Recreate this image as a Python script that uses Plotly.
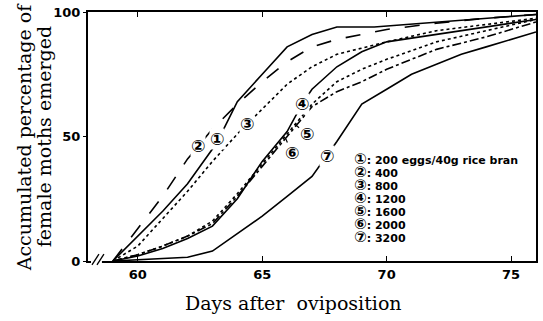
import plotly.graph_objects as go

# ---- data ----
c1_x = [59, 60, 61, 62, 63, 63.4, 64, 65, 66, 67, 68, 69.5, 72, 74, 76]
c1_y = [0, 10, 20, 31, 45, 52, 64, 75, 86, 91, 94, 94, 96, 97.5, 99]

c2_x = [59, 60, 61, 62, 63, 64, 65, 66, 67, 68, 70, 72, 74, 76]
c2_y = [0, 13, 26, 41, 53, 63, 72, 80, 86, 89, 93, 95.5, 97.5, 99]

c3_x = [59, 60, 61, 62, 63, 64, 65, 66, 67, 68, 70, 72, 74, 76]
c3_y = [0, 6, 17, 28, 40, 51, 61, 71, 78, 83, 88, 92.5, 95, 97.5]

c4_x = [59, 60, 61, 62, 63, 64, 65, 66, 66.6, 67, 68, 69, 70, 72, 74, 76]
c4_y = [0, 2, 5, 9, 14, 25, 40, 52, 63, 69, 78, 84, 88, 91, 94, 97]

c5_x = [59, 60, 61, 62, 63, 64, 65, 66, 67, 68, 69, 70, 72, 74, 76]
c5_y = [0, 2.5, 6, 10, 16, 27, 39, 51, 63, 72, 77, 81, 88, 92.5, 97]

c6_x = [59, 60, 61, 62, 63, 64, 65, 66, 67, 68, 69, 70, 72, 74, 76]
c6_y = [0, 2.5, 6, 10, 15, 26, 38, 50, 62, 68, 72, 77, 85, 90, 96]

c7_x = [59, 60, 61, 62, 63, 64, 65, 66, 67, 68, 69, 70, 71, 72, 73, 74, 75, 76]
c7_y = [0, 0.5, 1, 1.5, 4, 11, 18, 26, 34, 48, 63, 69, 75, 79, 83, 86, 89, 92]

series_x = [c1_x, c2_x, c3_x, c4_x, c5_x, c6_x, c7_x]
series_y = [c1_y, c2_y, c3_y, c4_y, c5_y, c6_y, c7_y]
dashes = ["solid", "longdash", "dot", "solid", "dot", "dashdot", "solid"]
markers = ["①", "②", "③", "④", "⑤", "⑥", "⑦"]
densities = ["200 eggs/40g rice bran", "400", "800", "1200", "1600", "2000", "3200"]

# curve label positions (data coords) and leader offsets
lab_x = [63.2, 62.4, 64.4, 66.6, 66.3, 65.95, 67.6]
lab_y = [49, 46, 55, 63, 55, 49, 42]
lab_ax = [0, 0, 0, 0, 12, 6, 0]
lab_ay = [0, 0, 0, 0, 10, 14, 0]

x_ticks = [60, 65, 70, 75]
y_ticks = [0, 50, 100]

CIRC_FONT = "DejaVu Sans"

fig = go.Figure()
for xs, ys, d in zip(series_x, series_y, dashes):
    fig.add_trace(go.Scatter(x=xs, y=ys, mode="lines",
                             line=dict(color="black", width=1.6, dash=d),
                             showlegend=False, hoverinfo="skip"))

annos = []
for m, x, y, ax, ay in zip(markers, lab_x, lab_y, lab_ax, lab_ay):
    a = dict(x=x, y=y, xref="x", yref="y", text=f"<b>{m}</b>",
             font=dict(size=17, color="black", family=CIRC_FONT),
             bgcolor="white", borderpad=0)
    if ax == 0 and ay == 0:
        a.update(showarrow=False)
    else:
        a.update(showarrow=True, ax=ax, ay=ay, arrowhead=0, arrowwidth=1.2,
                 arrowcolor="black", standoff=0, startstandoff=0)
    annos.append(a)

# legend block: one annotation, 13 px line pitch (base font 10)
leg_lines = [f"<b><span style='font-size:15px'>{m}</span><span style='font-size:11px'>: {d}</span></b>"
             for m, d in zip(markers, densities)]
annos.append(dict(x=(354 - 88) / 450, y=(261 - 197) / 251, xref="paper", yref="paper",
                  xanchor="left", yanchor="middle", align="left", showarrow=False, borderpad=0,
                  text="<br>".join(leg_lines),
                  font=dict(size=10, color="black", family="DejaVu Sans")))

# axis titles
annos.append(dict(x=(294 - 88) / 450, y=(261 - 303) / 251, xref="paper", yref="paper",
                  xanchor="center", yanchor="middle", showarrow=False,
                  text="Days after  oviposition",
                  font=dict(size=19, color="black", family="DejaVu Serif")))
annos.append(dict(x=(24 - 88) / 450, y=(261 - 136) / 251, xref="paper", yref="paper",
                  xanchor="center", yanchor="middle", showarrow=False, textangle=-90,
                  text="Accumulated percentage of",
                  font=dict(size=19, color="black", family="DejaVu Serif")))
annos.append(dict(x=(44 - 88) / 450, y=(261 - 136) / 251, xref="paper", yref="paper",
                  xanchor="center", yanchor="middle", showarrow=False, textangle=-90,
                  text="female moths emerged",
                  font=dict(size=19, color="black", family="DejaVu Serif")))

def px2paper(px, py):
    return (px - 88) / 450, (261 - py) / 251

shapes = []
# white gap in bottom axis line (axis break)
gx0, gy = px2paper(91, 261)
gx1, _ = px2paper(102, 261)
shapes.append(dict(type="line", xref="paper", yref="paper", x0=gx0, x1=gx1, y0=gy, y1=gy,
                   line=dict(color="white", width=4), layer="above"))
for sx in (92, 97):
    a0, b0 = px2paper(sx, 265)
    a1, b1 = px2paper(sx + 7, 254)
    shapes.append(dict(type="line", xref="paper", yref="paper", x0=a0, y0=b0, x1=a1, y1=b1,
                       line=dict(color="black", width=1.3), layer="above"))

fig.update_layout(
    width=543, height=321,
    margin=dict(l=88, r=5, t=10, b=60),
    paper_bgcolor="white", plot_bgcolor="white",
    annotations=annos, shapes=shapes,
    xaxis=dict(range=[58, 76], tickvals=x_ticks, ticktext=[f"<b>{v}</b>" for v in x_ticks],
               ticks="inside", ticklen=5, tickwidth=1.2, tickcolor="black",
               showline=True, linecolor="black", linewidth=2, mirror="ticks",
               showgrid=False, zeroline=False,
               tickfont=dict(size=13, color="black", family="DejaVu Sans")),
    yaxis=dict(range=[0, 100], tickvals=y_ticks, ticktext=[f"<b>{v}</b>" for v in y_ticks],
               ticks="outside", ticklen=3, tickwidth=1.2, tickcolor="black",
               showline=True, linecolor="black", linewidth=2, mirror=True,
               showgrid=False, zeroline=False,
               tickfont=dict(size=13, color="black", family="DejaVu Sans")),
)

fig.write_html("out.html", config={"displayModeBar": False},
               post_script="document.body.style.margin='0';")
